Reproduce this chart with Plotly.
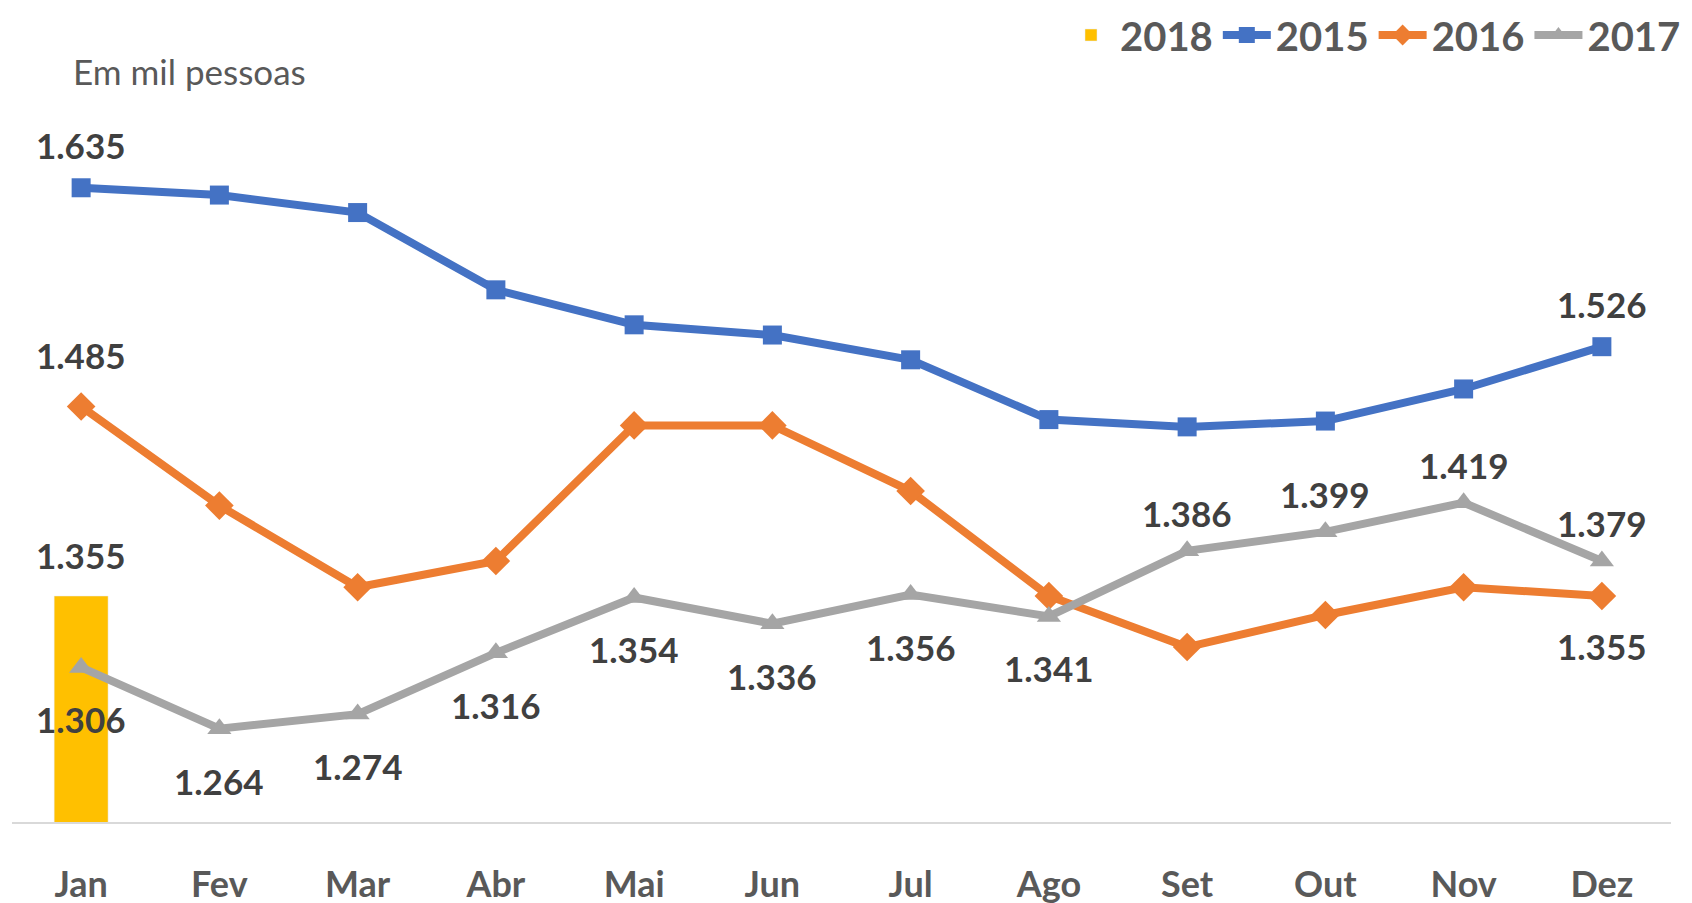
import plotly.graph_objects as go

months = ["Jan", "Fev", "Mar", "Abr", "Mai", "Jun", "Jul", "Ago", "Set", "Out", "Nov", "Dez"]
v2018 = [1355]
v2015 = [1635, 1630, 1618, 1565, 1541, 1534, 1517, 1476, 1471, 1475, 1497, 1526]
v2016 = [1485, 1417, 1361, 1379, 1472, 1472, 1427, 1355, 1320, 1342, 1361, 1355]
v2017 = [1306, 1264, 1274, 1316, 1354, 1336, 1356, 1341, 1386, 1399, 1419, 1379]

# which points carry a label, and where: 1 = above, -1 = below, 0 = none
lab2015 = [1, 0, 0, 0, 0, 0, 0, 0, 0, 0, 0, 1]
lab2016 = [1, 0, 0, 0, 0, 0, 0, 0, 0, 0, 0, -1]
lab2017 = [-1, -1, -1, -1, -1, -1, -1, -1, 1, 1, 1, 1]

BLUE = "#4472C4"
ORANGE = "#ED7D31"
GRAY = "#A5A5A5"
GOLD = "#FFC000"
FONT = "Lato, Open Sans, sans-serif"
LABEL_COLOR = "#404040"

W, H = 1692, 903
LEFT, RIGHT, TOP, BOTTOM = 4, 29, 85, 89
PLOT_W = W - LEFT - RIGHT
PLOT_H = H - TOP - BOTTOM


def fmt(v):
    return f"{v:,}".replace(",", ".")


fig = go.Figure()
fig.add_trace(go.Bar(x=months[:len(v2018)], y=v2018, name="2018", marker_color=GOLD,
                     width=0.39, hoverinfo="skip"))
fig.add_trace(go.Scatter(x=months, y=v2015, name="2015", mode="lines+markers",
                         line=dict(color=BLUE, width=8),
                         marker=dict(symbol="square", size=19, color=BLUE)))
fig.add_trace(go.Scatter(x=months, y=v2016, name="2016", mode="lines+markers",
                         line=dict(color=ORANGE, width=8),
                         marker=dict(symbol="diamond", size=22, color=ORANGE)))
fig.add_trace(go.Scatter(x=months, y=v2017, name="2017", mode="lines+markers",
                         line=dict(color=GRAY, width=8),
                         marker=dict(symbol="triangle-up", size=21, color=GRAY)))

annotations = []


def add_labels(values, flags, up_shift=40, down_shift=-53):
    for m, v, f in zip(months, values, flags):
        if f == 0:
            continue
        annotations.append(dict(x=m, y=v, text=fmt(v), showarrow=False,
                                yshift=up_shift if f > 0 else down_shift,
                                font=dict(family=FONT, size=35, color=LABEL_COLOR, weight="bold")))


add_labels(v2018, [1], up_shift=41)
add_labels(v2015, lab2015, up_shift=43)
add_labels(v2016, lab2016, up_shift=51, down_shift=-50)
add_labels(v2017, lab2017, up_shift=38, down_shift=-52)

annotations.append(dict(text="Em mil pessoas", xref="paper", yref="paper",
                        x=(63 - LEFT) / PLOT_W, y=(H - BOTTOM - 63) / PLOT_H,
                        xanchor="left", yanchor="middle",
                        showarrow=False, font=dict(family=FONT, size=35, color="#595959")))

fig.update_layout(
    width=W, height=H,
    margin=dict(l=LEFT, r=RIGHT, t=TOP, b=BOTTOM, autoexpand=False),
    paper_bgcolor="white", plot_bgcolor="white",
    showlegend=True,
    legend=dict(orientation="h", xref="container", yref="container",
                x=1 - 14 / W, xanchor="right", y=1 - 27 / H, yanchor="middle",
                font=dict(family=FONT, size=40, color="#595959", weight="bold"),
                itemwidth=48, traceorder="normal", bgcolor="rgba(0,0,0,0)"),
    annotations=annotations,
    font=dict(family=FONT),
)
fig.update_xaxes(range=[-0.5, 11.5], showline=True, linecolor="#D9D9D9", linewidth=2,
                 showgrid=False, ticks="outside", ticklen=30, tickcolor="rgba(0,0,0,0)",
                 tickfont=dict(family=FONT, size=36, color="#595959", weight="bold"),
                 automargin=False)
fig.update_yaxes(range=[1200, 1700], visible=False, showgrid=False, zeroline=False,
                 automargin=False)

fig.write_html("out.html")
